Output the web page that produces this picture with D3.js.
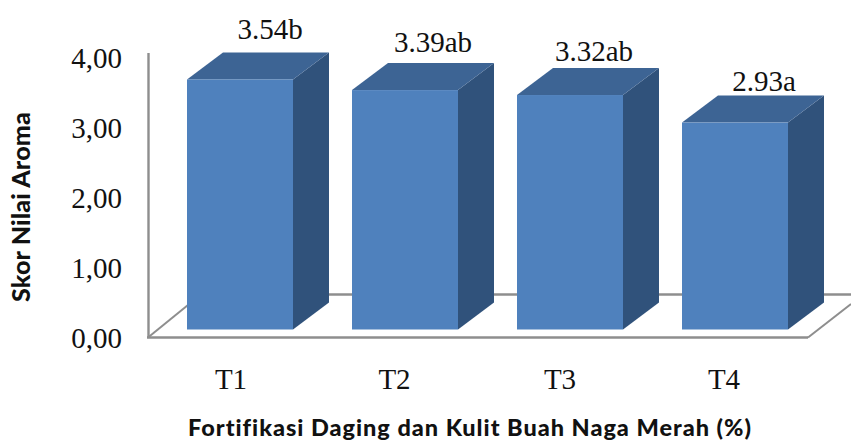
<!DOCTYPE html>
<html><head><meta charset="utf-8">
<style>html,body{margin:0;padding:0;background:#fff}svg{display:block}</style>
<script src="https://cdn.jsdelivr.net/npm/d3@7"></script></head><body><svg id="c" width="851" height="441"></svg>
<script>
const categories = ["T1","T2","T3","T4"];
const values = [3.54,3.39,3.32,2.93];
const valueLabels = ["3.54b","3.39ab","3.32ab","2.93a"];
const yTicks = [0,1,2,3,4];
const xTitle = "Fortifikasi Daging dan Kulit Buah Naga Merah (%)";
const yTitle = "Skor Nilai Aroma";

const svg = d3.select("#c");
const dx = 36, dy = 27;
const x = d3.scaleBand().domain(categories).range([157.5,817.5]).paddingInner(59/165).paddingOuter(29.5/165);
const y = d3.scaleLinear().domain([0,4]).range([329.5,47]);
const tickY = d3.scaleLinear().domain([0,4]).range([338,58]);
const serif = "'Liberation Serif',serif";
const grey = "#8e8e8e";

const line = (a,b,c,d,w=2.4)=>svg.append("line").attr("x1",a).attr("y1",b).attr("x2",c).attr("y2",d).attr("stroke",grey).attr("stroke-width",w);
line(148.5,53,148.5,338);
line(147,337.5,808,337.5);
line(148,337.5,188,305,2);
line(808,337.5,851,304,2);
line(188,294.5,851,294.5);

const g = svg.selectAll(".bar").data(categories).join("g");
const w = x.bandwidth();
g.each(function(c,i){
  const s = d3.select(this), l = x(c), r = l+w, t = y(values[i]), b = y(0);
  s.append("path").attr("d",d3.line()([[r,t],[r+dx,t-dy],[r+dx,b-dy],[r,b]])).attr("fill","#30527b");
  s.append("path").attr("d",d3.line()([[l,t],[l+dx,t-dy],[r+dx,t-dy],[r,t]])).attr("fill","#3d6494");
  s.append("rect").attr("x",l).attr("y",t).attr("width",w).attr("height",b-t).attr("fill","#4f81bd");
});

svg.selectAll(".vl").data(valueLabels).join("text")
  .attr("x",(d,i)=>x(categories[i])+w/2+ [30,28,24,29][i])
  .attr("y",(d,i)=>y(values[i])-dy-[13,11,7,5][i])
  .attr("text-anchor","middle").attr("font-family",serif).attr("font-size",29).attr("fill","#111").text(d=>d);

svg.selectAll(".yt").data(yTicks).join("text")
  .attr("x",122).attr("y",d=>tickY(d)).attr("dy","0.33em").attr("text-anchor","end")
  .attr("font-family",serif).attr("font-size",29).attr("fill","#111").text(d=>d3.format(".2f")(d).replace(".",","));

svg.selectAll(".xt").data(categories).join("text")
  .attr("x",(c,i)=>x(c)+w/2-[9,10.5,10,11][i]).attr("y",389)
  .attr("text-anchor","middle").attr("font-family",serif).attr("font-size",29).attr("fill","#111").text(c=>c);

const fit = (sel,len)=>{ const n=sel.node(), cur=n.getComputedTextLength(), k=n.getNumberOfChars();
  sel.attr("letter-spacing",(len-cur)/k); };
const xt = svg.append("text").attr("x",470).attr("y",436).attr("text-anchor","middle")
  .attr("font-family","Lato,sans-serif").attr("font-weight",900).attr("font-size",23.5).attr("fill","#111").text(xTitle);
fit(xt,564);
const yt = svg.append("text").attr("transform","translate(30,207) rotate(-90)").attr("text-anchor","middle")
  .attr("font-family","Lato,sans-serif").attr("font-weight",900).attr("font-size",25).attr("fill","#111").text(yTitle);
fit(yt,190);
</script></body></html>
